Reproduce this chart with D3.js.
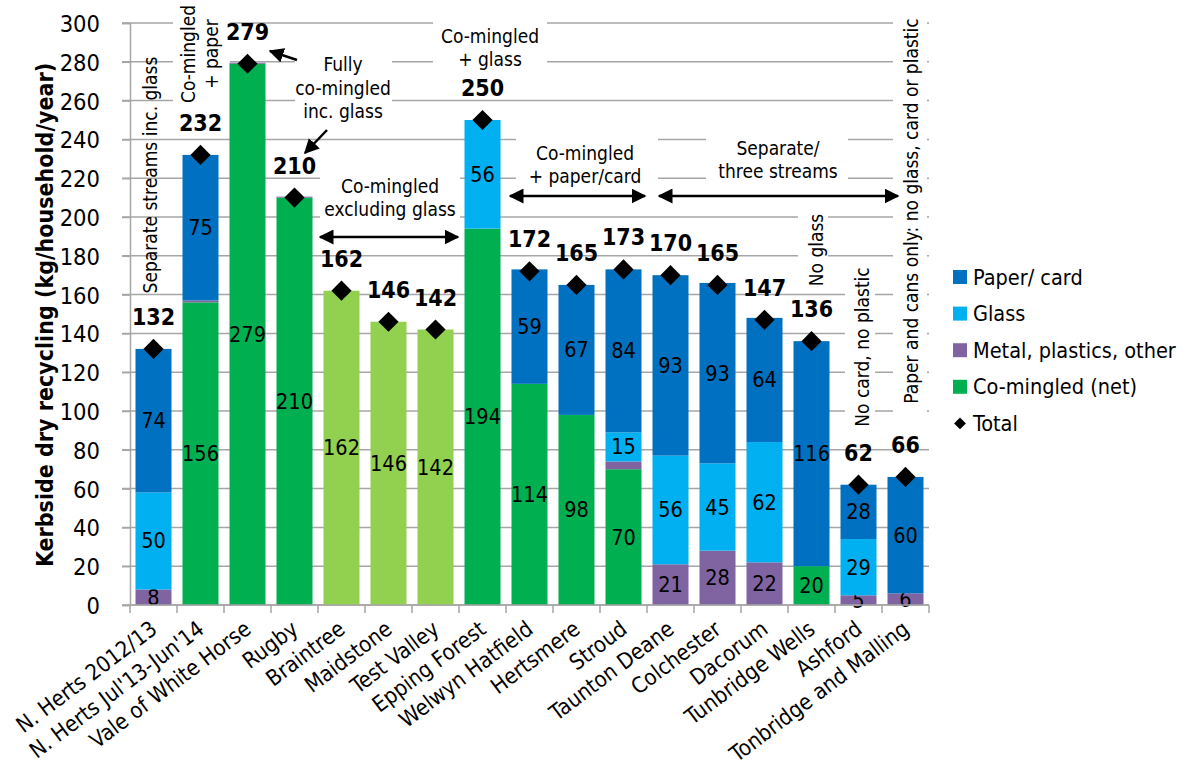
<!DOCTYPE html>
<html>
<head>
<meta charset="utf-8">
<script src="https://cdn.jsdelivr.net/npm/d3@7"></script>
<style>
  body { margin: 0; background: #fff; }
  svg text { font-family: "DejaVu Sans Condensed", "DejaVu Sans", sans-serif; font-stretch: condensed; }
</style>
</head>
<body>
<div id="chart"></div>
<script>
var councils = ["N. Herts 2012/13", "N. Herts Jul'13-Jun'14", "Vale of White Horse", "Rugby",
    "Braintree", "Maidstone", "Test Valley", "Epping Forest", "Welwyn Hatfield", "Hertsmere",
    "Stroud", "Taunton Deane", "Colchester", "Dacorum", "Tunbridge Wells", "Ashford",
    "Tonbridge and Malling"];
var comingled = [0, 156, 279, 210, 162, 146, 142, 194, 114, 98, 70, 0, 0, 0, 20, 0, 0];
var metalPlastics = [8, 1, 0.5, 0.5, 0, 0, 0, 0, 0, 0, 4, 21, 28, 22, 0, 5, 6];
var glass = [50, 0, 0, 0, 0, 0, 0, 56, 0, 0, 15, 56, 45, 62, 0, 29, 0];
var paperCard = [74, 75, 0, 0, 0, 0, 0, 0, 59, 67, 84, 93, 93, 64, 116, 28, 60];
var totals = [132, 232, 279, 210, 162, 146, 142, 250, 172, 165, 173, 170, 165, 147, 136, 62, 66];
// co-mingled excluding glass shown in a lighter green
var excludesGlass = ["Braintree", "Maidstone", "Test Valley"];
var yTicks = [0, 20, 40, 60, 80, 100, 120, 140, 160, 180, 200, 220, 240, 260, 280, 300];

var w = 1187, h = 771;
var plotLeft = 130, plotRight = 929, plotTop = 23, plotBottom = 605;

var series = [
    {key: "comingled", name: "Co-mingled (net)", values: comingled, color: "#00B050"},
    {key: "metal", name: "Metal, plastics, other", values: metalPlastics, color: "#8064A2"},
    {key: "glass", name: "Glass", values: glass, color: "#00B0F0"},
    {key: "paper", name: "Paper/ card", values: paperCard, color: "#0070C0"}
];

var rows = councils.map(function(c, i) {
    var r = {council: c};
    series.forEach(function(s) { r[s.key] = s.values[i]; });
    return r;
});

var stacked = d3.stack().keys(series.map(function(s) { return s.key; }))(rows);

var xScale = d3.scaleBand()
    .domain(councils)
    .range([plotLeft, plotRight])
    .paddingInner(0.234)
    .paddingOuter(0.117);

var yScale = d3.scaleLinear()
    .domain([0, 300])
    .range([plotBottom, plotTop]);

var svg = d3.select("#chart")
    .append("svg")
    .attr("width", w)
    .attr("height", h);

// gridlines
svg.append("g")
    .selectAll("line")
    .data(yTicks)
    .join("line")
    .attr("x1", plotLeft - 8)
    .attr("x2", plotRight)
    .attr("y1", function(d) { return yScale(d); })
    .attr("y2", function(d) { return yScale(d); })
    .attr("stroke", "#a6a6a6")
    .attr("stroke-width", 1.5);

// white boxes behind the text annotations (drawn over gridlines)
var boxes = [
    [173, 0, 57, 110], [295, 40, 97, 86], [320, 170, 140, 54], [433, 10, 114, 66],
    [516, 135, 142, 55], [706, 135, 142, 50], [798, 210, 30, 80], [845, 262, 30, 170],
    [893, 0, 34, 425]
];
svg.append("g")
    .selectAll("rect")
    .data(boxes)
    .join("rect")
    .attr("x", function(d) { return d[0]; })
    .attr("y", function(d) { return d[1]; })
    .attr("width", function(d) { return d[2]; })
    .attr("height", function(d) { return d[3]; })
    .attr("fill", "#fff");

// bars
var layers = svg.append("g")
    .selectAll("g")
    .data(stacked)
    .join("g");

layers.selectAll("rect")
    .data(function(d) { return d.map(function(v) { v.key = d.key; return v; }); })
    .join("rect")
    .attr("x", function(d) { return xScale(d.data.council); })
    .attr("width", xScale.bandwidth())
    .attr("y", function(d) { return yScale(d[1]); })
    .attr("height", function(d) { return yScale(d[0]) - yScale(d[1]); })
    .attr("fill", function(d) {
        if (d.key === "comingled" && excludesGlass.indexOf(d.data.council) >= 0) return "#92D050";
        return series.find(function(s) { return s.key === d.key; }).color;
    });

// segment labels
layers.selectAll("text")
    .data(function(d) { return d.filter(function(v) { return v[1] - v[0] >= 5; }); })
    .join("text")
    .attr("x", function(d) { return xScale(d.data.council) + xScale.bandwidth() / 2; })
    .attr("y", function(d) { return yScale((d[0] + d[1]) / 2); })
    .attr("text-anchor", "middle")
    .attr("dominant-baseline", "central")
    .style("font-size", "21.5px")
    .attr("fill", "#000")
    .text(function(d) { return Math.round(d[1] - d[0]); });

// axes
var yAxis = d3.axisLeft(yScale).tickValues(yTicks).tickSize(8).tickPadding(22);
var gy = svg.append("g")
    .attr("transform", "translate(" + plotLeft + ",0)")
    .call(yAxis);
gy.select(".domain").attr("stroke", "#a6a6a6").attr("stroke-width", 1.5);
gy.selectAll(".tick line").attr("stroke", "#a6a6a6").attr("stroke-width", 1.5);
gy.selectAll("text").style("font-size", "23.5px").attr("fill", "#000").attr("dy", "0.36em");

svg.append("line")
    .attr("x1", plotLeft)
    .attr("x2", plotRight)
    .attr("y1", plotBottom)
    .attr("y2", plotBottom)
    .attr("stroke", "#a6a6a6")
    .attr("stroke-width", 1.5);

// ticks between categories
svg.append("g")
    .selectAll("line")
    .data(d3.range(councils.length + 1))
    .join("line")
    .attr("x1", function(i) { return plotLeft + i * xScale.step(); })
    .attr("x2", function(i) { return plotLeft + i * xScale.step(); })
    .attr("y1", plotBottom)
    .attr("y2", plotBottom + 8)
    .attr("stroke", "#a6a6a6")
    .attr("stroke-width", 1.5);

svg.append("g")
    .selectAll("text")
    .data(councils)
    .join("text")
    .attr("transform", function(d) {
        return "translate(" + (xScale(d) + xScale.bandwidth() / 2 + 5) + "," + (plotBottom + 27) + ") rotate(-37)";
    })
    .attr("text-anchor", "end")
    .style("font-size", "22px")
    .attr("fill", "#000")
    .text(function(d) { return d; });

svg.append("text")
    .attr("transform", "translate(53,315) rotate(-90)")
    .attr("text-anchor", "middle")
    .style("font-size", "23px")
    .style("font-weight", "bold")
    .text("Kerbside dry recycling (kg/household/year)");

// totals: diamonds and bold labels
var diamond = d3.symbol().type(d3.symbolDiamond2).size(260);
svg.append("g")
    .selectAll("path")
    .data(totals)
    .join("path")
    .attr("transform", function(d, i) {
        return "translate(" + (xScale(councils[i]) + xScale.bandwidth() / 2) + "," + yScale(d) + ")";
    })
    .attr("d", diamond)
    .attr("fill", "#000");

svg.append("g")
    .selectAll("text")
    .data(totals)
    .join("text")
    .attr("x", function(d, i) { return xScale(councils[i]) + xScale.bandwidth() / 2; })
    .attr("y", function(d) { return yScale(d) - 32; })
    .attr("text-anchor", "middle")
    .attr("dominant-baseline", "central")
    .style("font-size", "23px")
    .style("font-weight", "bold")
    .text(function(d) { return d; });

// annotations
function label(lines, x, y, rot, size) {
    var t = svg.append("text")
        .attr("transform", "translate(" + x + "," + y + ")" + (rot ? " rotate(" + rot + ")" : ""))
        .attr("text-anchor", "middle")
        .style("font-size", (size || 19) + "px");
    lines.forEach(function(l, i) {
        t.append("tspan")
            .attr("x", 0)
            .attr("dy", i === 0 ? (-(lines.length - 1) * 0.62 + 0.35) + "em" : "1.24em")
            .text(l);
    });
}
label(["Separate streams inc. glass"], 150, 175, -90);
label(["Co-mingled", "+ paper"], 200, 54, -90);
label(["Fully", "co-mingled", "inc. glass"], 343, 88);
label(["Co-mingled", "excluding glass"], 390, 198);
label(["Co-mingled", "+ glass"], 490, 48);
label(["Co-mingled", "+ paper/card"], 585, 165);
label(["Separate/", "three streams"], 778, 160);
label(["No glass"], 816, 250, -90);
label(["No card,  no plastic"], 862, 347, -90);
label(["Paper and cans only: no glass, card or plastic"], 911, 211, -90);

svg.append("defs").append("marker")
    .attr("id", "head")
    .attr("viewBox", "0 0 10 10")
    .attr("refX", 9)
    .attr("refY", 5)
    .attr("markerWidth", 6)
    .attr("markerHeight", 6)
    .attr("orient", "auto-start-reverse")
    .append("path")
    .attr("d", "M0,0L10,5L0,10z")
    .attr("fill", "#000");

var arrows = [
    {x1: 320, y1: 237, x2: 458, y2: 237, both: true},
    {x1: 510, y1: 196, x2: 645, y2: 196, both: true},
    {x1: 659, y1: 196, x2: 898, y2: 196, both: true},
    {x1: 297, y1: 60, x2: 270, y2: 51, both: false},
    {x1: 327, y1: 130, x2: 305, y2: 153, both: false}
];
svg.append("g")
    .selectAll("line")
    .data(arrows)
    .join("line")
    .attr("x1", function(d) { return d.x1; })
    .attr("y1", function(d) { return d.y1; })
    .attr("x2", function(d) { return d.x2; })
    .attr("y2", function(d) { return d.y2; })
    .attr("stroke", "#000")
    .attr("stroke-width", 2.5)
    .attr("marker-end", "url(#head)")
    .attr("marker-start", function(d) { return d.both ? "url(#head)" : null; });

// legend
var legendItems = series.slice().reverse();
var lg = svg.append("g").attr("transform", "translate(953,277)");
lg.selectAll("rect")
    .data(legendItems)
    .join("rect")
    .attr("x", 0)
    .attr("y", function(d, i) { return i * 36.6 - 7; })
    .attr("width", 14)
    .attr("height", 14)
    .attr("fill", function(d) { return d.color; });
lg.append("path")
    .attr("transform", "translate(7," + (4 * 36.6) + ")")
    .attr("d", d3.symbol().type(d3.symbolDiamond2).size(90))
    .attr("fill", "#000");
lg.selectAll("text")
    .data(legendItems.map(function(d) { return d.name; }).concat(["Total"]))
    .join("text")
    .attr("x", 20)
    .attr("y", function(d, i) { return i * 36.6; })
    .attr("dominant-baseline", "central")
    .style("font-size", "21.5px")
    .text(function(d) { return d; });
</script>
</body>
</html>
